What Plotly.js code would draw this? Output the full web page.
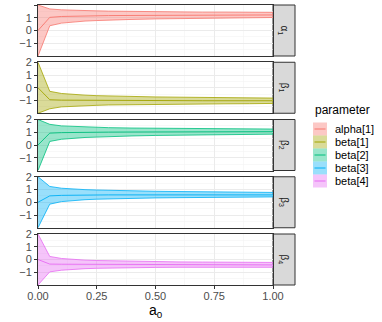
<!DOCTYPE html>
<html>
<head>
<meta charset="utf-8">
<script src="https://cdn.plot.ly/plotly-3.0.1.min.js"></script>
<style>
  body { margin: 0; background: #fff; }
  #graph { width: 382px; height: 322px; }
</style>
</head>
<body>
<div id="graph"></div>
<script>
var a0 = [0, 0.05, 0.1, 0.15, 0.2, 0.25, 0.3, 0.4, 0.5, 0.6, 0.7, 0.8, 0.9, 1.0];

var params = ["alpha[1]", "beta[1]", "beta[2]", "beta[3]", "beta[4]"];
var stripLabels = ["α<sub>1</sub>", "β<sub>1</sub>", "β<sub>2</sub>", "β<sub>3</sub>", "β<sub>4</sub>"];
var colors = ["#F8766D", "#A3A500", "#00BF7D", "#00B0F6", "#E76BF3"];
var fills = ["rgba(248,118,109,0.4)", "rgba(163,165,0,0.4)", "rgba(0,191,125,0.4)", "rgba(0,176,246,0.4)", "rgba(231,107,243,0.4)"];

// posterior mean and interval bounds, one row per parameter
var meanAlpha1 = [0, 1.03, 1.1, 1.13, 1.15, 1.16, 1.17, 1.18, 1.19, 1.2, 1.2, 1.21, 1.21, 1.22];
var upperAlpha1 = [2, 1.69, 1.62, 1.58, 1.56, 1.54, 1.52, 1.49, 1.47, 1.46, 1.44, 1.44, 1.43, 1.42];
var lowerAlpha1 = [-2, 0.37, 0.58, 0.68, 0.74, 0.78, 0.82, 0.87, 0.91, 0.94, 0.96, 0.98, 0.99, 1.02];

var meanBeta1 = [0, -0.94, -0.97, -0.98, -0.99, -1.0, -1.0, -1.0, -1.01, -1.01, -1.02, -1.02, -1.02, -1.02];
var upperBeta1 = [2, -0.28, -0.45, -0.53, -0.58, -0.62, -0.65, -0.69, -0.72, -0.74, -0.76, -0.78, -0.79, -0.81];
var lowerBeta1 = [-2, -1.65, -1.5, -1.44, -1.4, -1.38, -1.35, -1.32, -1.3, -1.28, -1.27, -1.26, -1.25, -1.23];

var meanBeta2 = [0, 0.93, 0.97, 0.99, 1.0, 1.0, 1.01, 1.02, 1.03, 1.03, 1.04, 1.04, 1.05, 1.05];
var upperBeta2 = [2, 1.62, 1.5, 1.45, 1.41, 1.38, 1.36, 1.33, 1.31, 1.29, 1.28, 1.27, 1.26, 1.25];
var lowerBeta2 = [-2, 0.28, 0.45, 0.53, 0.59, 0.62, 0.66, 0.71, 0.75, 0.77, 0.8, 0.81, 0.84, 0.85];

var meanBeta3 = [0, 0.5, 0.54, 0.56, 0.57, 0.58, 0.58, 0.58, 0.58, 0.58, 0.58, 0.58, 0.58, 0.58];
var upperBeta3 = [2, 1.24, 1.1, 1.03, 0.99, 0.96, 0.93, 0.89, 0.86, 0.84, 0.82, 0.8, 0.79, 0.77];
var lowerBeta3 = [-2, -0.15, 0.05, 0.14, 0.2, 0.24, 0.27, 0.31, 0.34, 0.36, 0.38, 0.39, 0.4, 0.42];

var meanBeta4 = [0, -0.36, -0.37, -0.37, -0.37, -0.37, -0.38, -0.39, -0.4, -0.4, -0.41, -0.41, -0.42, -0.42];
var upperBeta4 = [2, 0.24, 0.08, 0.0, -0.05, -0.08, -0.1, -0.14, -0.17, -0.19, -0.2, -0.21, -0.22, -0.23];
var lowerBeta4 = [-2, -0.97, -0.84, -0.77, -0.72, -0.69, -0.67, -0.64, -0.62, -0.61, -0.6, -0.6, -0.61, -0.61];

var means = [meanAlpha1, meanBeta1, meanBeta2, meanBeta3, meanBeta4];
var uppers = [upperAlpha1, upperBeta1, upperBeta2, upperBeta3, upperBeta4];
var lowers = [lowerAlpha1, lowerBeta1, lowerBeta2, lowerBeta3, lowerBeta4];

var W = 382, H = 322;
var mL = 38, mR = 87, mT = 5, mB = 37;
var pw = W - mL - mR, ph = H - mT - mB;
var xEnd = 235 / pw;
var panelH = 51, gap = 6.25;
var font = "Liberation Sans, Arial, sans-serif";

function toPaperY(p) { return (H - mB - p) / ph; }
function toPaperX(p) { return (p - mL) / pw; }

var data = [];
var layout = {
    width: W, height: H,
    margin: { l: mL, r: mR, t: mT, b: mB },
    paper_bgcolor: "#fff", plot_bgcolor: "#fff",
    showlegend: false,
    font: { family: font, size: 11, color: "#4d4d4d" },
    shapes: [],
    annotations: []
};

for (var i = 0; i < params.length; i++) {
    var n = i + 1;
    var xa = n === 1 ? "x" : "x" + n;
    var ya = n === 1 ? "y" : "y" + n;
    var panelTop = mT + i * (panelH + gap);
    var dom = [toPaperY(panelTop + panelH), toPaperY(panelTop)];
    var last = i === params.length - 1;

    data.push({ x: a0, y: lowers[i], xaxis: xa, yaxis: ya, type: "scatter", mode: "lines",
        line: { color: colors[i], width: 0.8 }, hoverinfo: "skip" });
    data.push({ x: a0, y: uppers[i], xaxis: xa, yaxis: ya, type: "scatter", mode: "lines",
        fill: "tonexty", fillcolor: fills[i], line: { color: colors[i], width: 0.8 }, hoverinfo: "skip" });
    data.push({ x: a0, y: means[i], xaxis: xa, yaxis: ya, type: "scatter", mode: "lines",
        line: { color: colors[i], width: 0.9 }, name: params[i] });

    layout["xaxis" + (n === 1 ? "" : n)] = {
        domain: [0, xEnd], anchor: ya, range: [0, 1],
        tickvals: [0, 0.25, 0.5, 0.75, 1], ticktext: ["0.00", "0.25", "0.50", "0.75", "1.00"],
        showticklabels: last, ticklabelstandoff: -2,
        ticks: last ? "outside" : "", ticklen: 3, tickcolor: "#333",
        gridcolor: "#ebebeb", gridwidth: 1,
        minor: { tickmode: "array", tickvals: [0.125, 0.375, 0.625, 0.875], showgrid: true, gridcolor: "#f4f4f4", gridwidth: 0.6, ticks: "" },
        showline: true, mirror: true, linecolor: "#333", linewidth: 1,
        zeroline: false, tickfont: { size: 11, color: "#4d4d4d" }
    };
    layout["yaxis" + (n === 1 ? "" : n)] = {
        domain: dom, anchor: xa, range: [-2, 2],
        tickvals: [-1, 0, 1, 2], ticktext: ["\u22121", "0", "1", "2"],
        ticks: "outside", ticklen: 3, tickcolor: "#333",
        gridcolor: "#ebebeb", gridwidth: 1,
        minor: { tickmode: "array", tickvals: [-1.5, -0.5, 0.5, 1.5], showgrid: true, gridcolor: "#f4f4f4", gridwidth: 0.6, ticks: "" },
        showline: true, mirror: true, linecolor: "#333", linewidth: 1,
        zeroline: false, tickfont: { size: 11, color: "#4d4d4d" }
    };

    // facet strip on the right
    layout.shapes.push({ type: "rect", xref: "paper", yref: "paper",
        x0: xEnd, x1: 1, y0: dom[0], y1: dom[1],
        fillcolor: "#d9d9d9", line: { color: "#333", width: 1 }, layer: "below" });
    layout.annotations.push({ xref: "paper", yref: "paper", x: (xEnd + 1) / 2, y: (dom[0] + dom[1]) / 2,
        xanchor: "center", yanchor: "middle",
        text: stripLabels[i], textangle: 90, showarrow: false,
        font: { family: font, size: 10, color: "#1a1a1a" } });

    // legend key
    var ky = 122.5 + i * 13;
    layout.shapes.push({ type: "rect", xref: "paper", yref: "paper",
        x0: toPaperX(313), x1: toPaperX(327), y0: toPaperY(ky + 13), y1: toPaperY(ky),
        fillcolor: fills[i], line: { width: 0 } });
    layout.shapes.push({ type: "line", xref: "paper", yref: "paper",
        x0: toPaperX(314.5), x1: toPaperX(325.5), y0: toPaperY(ky + 6.5), y1: toPaperY(ky + 6.5),
        line: { color: colors[i], width: 1 } });
    layout.annotations.push({ xref: "paper", yref: "paper", x: toPaperX(333), y: toPaperY(ky + 6.5),
        xanchor: "left", yanchor: "middle", text: params[i], showarrow: false,
        font: { family: font, size: 11, color: "#000" } });
}

layout.annotations.push({ xref: "paper", yref: "paper", x: toPaperX(313), y: toPaperY(110),
    xanchor: "left", yanchor: "middle", text: "parameter", showarrow: false,
    font: { family: font, size: 12, color: "#000" } });
layout.annotations.push({ xref: "paper", yref: "paper", x: toPaperX(155.5), y: toPaperY(311),
    xanchor: "center", yanchor: "middle", text: "a<sub>0</sub>", showarrow: false,
    font: { family: font, size: 14, color: "#000" } });

Plotly.newPlot("graph", data, layout, { displayModeBar: false, staticPlot: true });
</script>
</body>
</html>
